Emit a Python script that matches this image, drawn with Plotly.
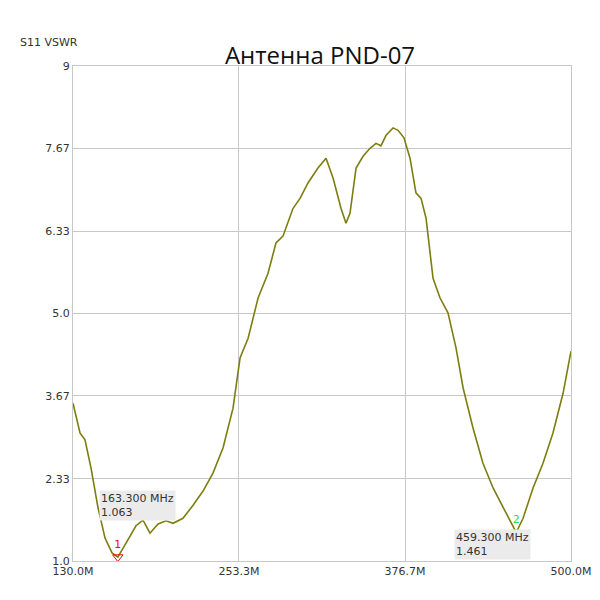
import plotly.graph_objects as go

freq = [130, 135.2, 138.9, 143.4, 148.6, 153.8, 159.0, 163.3, 169.4, 176.8, 182.0, 187.2, 193.2,
        199.1, 204.3, 211.7, 219.2, 226.6, 234.0, 241.5, 248.9, 254.1, 260.1, 267.5, 274.9, 280.8,
        286.0, 293.5, 298.7, 304.6, 312.0, 318.0, 323.2, 329.1, 332.8, 335.8, 340.3, 345.5, 350.7,
        355.1, 358.8, 362.6, 367.8, 371.5, 375.9, 380.4, 384.8, 388.6, 392.3, 397.5, 402.7, 408.6,
        414.6, 419.8, 427.2, 434.6, 442.1, 449.5, 459.3, 464.4, 471.8, 479.2, 486.6, 494.1, 500]
vswr = [3.55, 3.07, 2.96, 2.50, 1.86, 1.37, 1.13, 1.063, 1.29, 1.57, 1.66, 1.45, 1.60,
        1.65, 1.61, 1.69, 1.90, 2.13, 2.42, 2.83, 3.47, 4.28, 4.60, 5.25, 5.65, 6.14,
        6.25, 6.70, 6.86, 7.11, 7.35, 7.51, 7.19, 6.70, 6.46, 6.62, 7.35, 7.54, 7.67,
        7.75, 7.71, 7.88, 8.00, 7.96, 7.84, 7.51, 6.95, 6.86, 6.54, 5.57, 5.25, 5.01,
        4.44, 3.80, 3.15, 2.58, 2.18, 1.86, 1.461, 1.69, 2.18, 2.58, 3.07, 3.71, 4.39]

x_ticks = [130.0, 253.3, 376.7, 500.0]
x_labels = ["130.0M", "253.3M", "376.7M", "500.0M"]
y_ticks = [1.0, 2.33, 3.67, 5.0, 6.33, 7.67, 9]
y_labels = ["1.0", "2.33", "3.67", "5.0", "6.33", "7.67", "9"]

markers = [(163.3, 1.063, "1", "red"), (459.3, 1.461, "2", "#33dd33")]

fig = go.Figure()
fig.add_trace(go.Scatter(x=freq, y=vswr, mode="lines",
                         line=dict(color="#7d7d10", width=1.6), showlegend=False))

for f, v, name, col in markers:
    fig.add_trace(go.Scatter(x=[f], y=[v], mode="markers+text", text=[name],
                             textposition="top center", textfont=dict(color=col, size=11),
                             marker=dict(symbol="triangle-down-open", color=col, size=9),
                             showlegend=False))

fig.add_annotation(x=178, y=1.9, text="163.300 MHz<br>1.063", showarrow=False, align="left",
                   xanchor="center", bgcolor="#ebebeb", font=dict(size=11, color="#333"))
fig.add_annotation(x=442, y=1.27, text="459.300 MHz<br>1.461", showarrow=False, align="left",
                   xanchor="center", bgcolor="#ebebeb", font=dict(size=11, color="#333"))

fig.update_layout(
    width=600, height=600,
    margin=dict(l=65, r=37, t=58, b=47, autoexpand=False),
    plot_bgcolor="white", paper_bgcolor="white",
    font=dict(family="DejaVu Sans", color="#333"),
    title=dict(text="Антенна PND-07", x=0.52, y=0.935, xanchor="center",
               font=dict(size=24, color="#111", family="Open Sans")),
    xaxis=dict(range=[130, 500], tickvals=x_ticks, ticktext=x_labels, showgrid=True,
               gridcolor="#c8c8c8", showline=True, linecolor="#c8c8c8", mirror=True,
               zeroline=False, tickfont=dict(size=11), automargin=False),
    yaxis=dict(range=[1, 9], tickvals=y_ticks, ticktext=y_labels, showgrid=True,
               gridcolor="#c8c8c8", showline=True, linecolor="#c8c8c8", mirror=True,
               zeroline=False, tickfont=dict(size=11), automargin=False),
)
fig.add_annotation(xref="paper", yref="paper", x=-0.11, y=1.065, xanchor="left",
                   text="S11 VSWR", showarrow=False, font=dict(size=11, color="#333"))

fig.write_html("out.html")
